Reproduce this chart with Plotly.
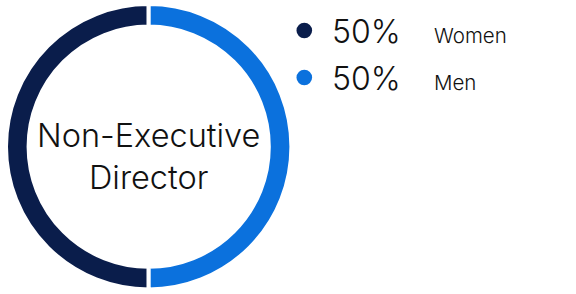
import plotly.graph_objects as go

# ---- data ----
categories = ["Women", "Men"]
values = [50, 50]
center_title = ["Non-Executive", "Director"]

# ---- style ----
colors = ["#0a1d4b", "#0b71dd"]
W, H = 576, 294
FONT = "Inter"


def px(x):
    return x / W


def py(y):
    return 1 - y / H


# pie geometry (pixels)
cx, cy, R = 148.7, 146.7, 142.7

fig = go.Figure()
fig.add_trace(go.Pie(
    labels=categories,
    values=values,
    hole=0.842,
    sort=False,
    direction="clockwise",
    rotation=180,
    marker=dict(colors=colors, line=dict(color="white", width=4)),
    textinfo="none",
    hoverinfo="skip",
    showlegend=False,
    domain=dict(x=[px(cx - R), px(cx + R)], y=[py(cy + R), py(cy - R)]),
))

annotations = [
    dict(text="<br>".join(center_title), x=px(cx), y=py(cy + 10), xref="paper", yref="paper",
         xanchor="center", yanchor="middle", showarrow=False,
         font=dict(family=FONT, size=32.5, color="#111111", weight=300)),
]
shapes = []
total = sum(values)
row_base = [43, 90]
for i, (cat, v) in enumerate(zip(categories, values)):
    b = row_base[i]
    dot_cy = b - 12.5
    r = 7.8
    shapes.append(dict(type="circle", xref="paper", yref="paper",
                       x0=px(304.3 - r), x1=px(304.3 + r),
                       y0=py(dot_cy + r), y1=py(dot_cy - r),
                       fillcolor=colors[i], line=dict(width=0)))
    annotations.append(dict(text=f"{round(v / total * 100)}%", x=px(330), y=py(b - 12),
                            xref="paper", yref="paper", xanchor="left", yanchor="middle",
                            showarrow=False,
                            font=dict(family=FONT, size=32, color="#111111", weight=300)))
    annotations.append(dict(text=cat, x=px(432), y=py(b - 7.5),
                            xref="paper", yref="paper", xanchor="left", yanchor="middle",
                            showarrow=False,
                            font=dict(family=FONT, size=20.5, color="#111111", weight=300)))

fig.update_layout(
    width=W, height=H,
    margin=dict(l=0, r=0, t=0, b=0),
    paper_bgcolor="white", plot_bgcolor="white",
    annotations=annotations, shapes=shapes,
)

fig.write_html("out.html")
